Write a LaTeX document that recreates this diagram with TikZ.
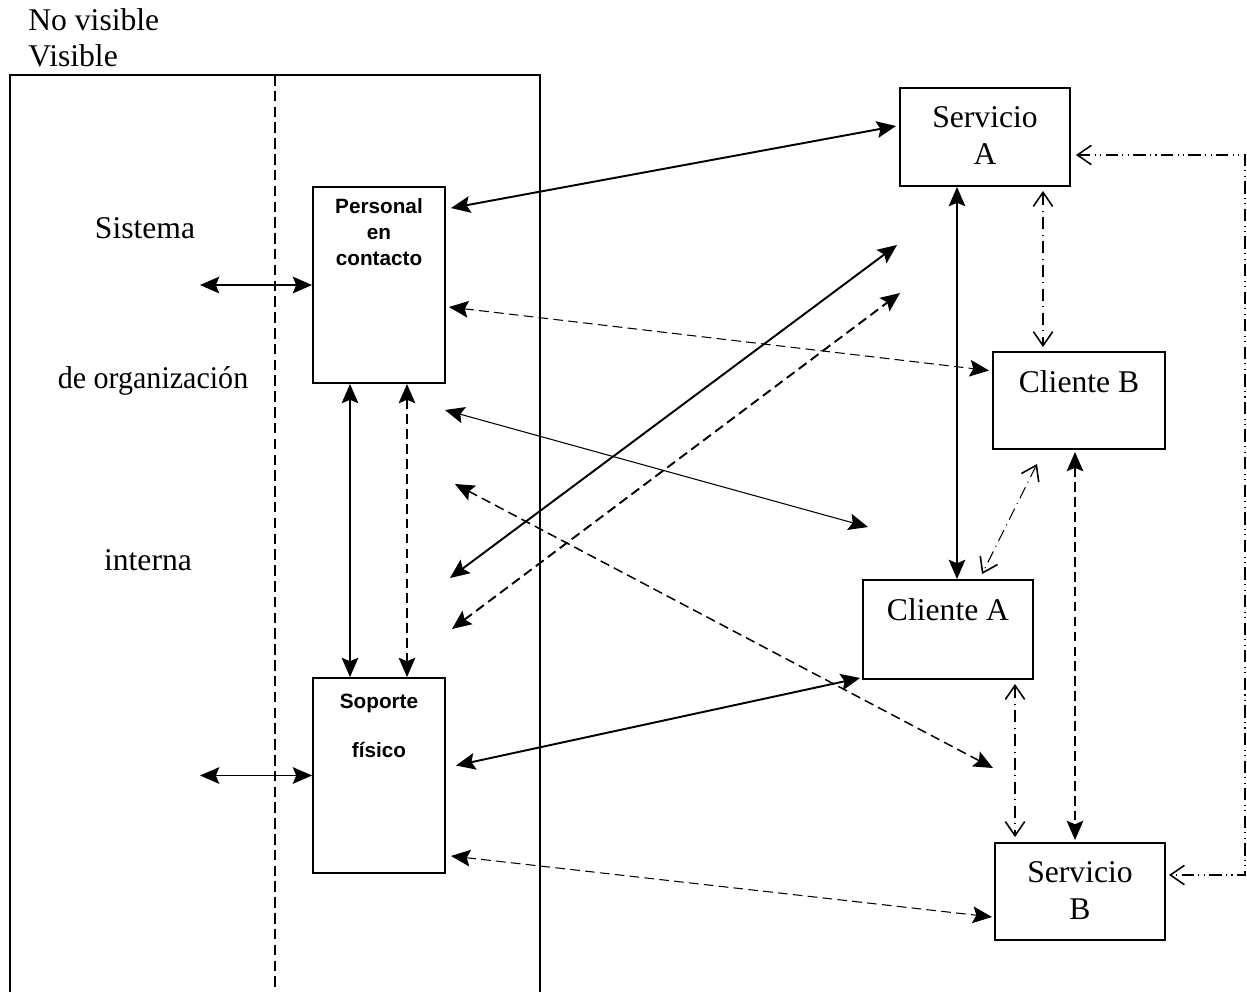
\documentclass[tikz,border=0pt]{standalone}
\usepackage{fontspec}
\setmainfont{Liberation Serif}
\newfontfamily\sansb{Liberation Sans}
\usetikzlibrary{arrows.meta, positioning}

\begin{document}
\begin{tikzpicture}[
    x=0.02cm, y=-0.02cm,
    every node/.style={font=\fontsize{18}{21}\selectfont},
    box/.style={draw, line width=1.1pt, inner sep=0pt},
    boxtext/.style={inner sep=0pt, align=center},
    smalltext/.style={inner sep=0pt, align=center,
        font=\sansb\bfseries\fontsize{11.8}{14.7}\selectfont},
    dbl/.style={{Stealth[length=11pt,width=9.5pt,inset=2pt]}-{Stealth[length=11pt,width=9.5pt,inset=2pt]}},
    opendbl/.style={{Straight Barb[length=8pt,width=11pt,line width=0.9pt]}-{Straight Barb[length=8pt,width=11pt,line width=0.9pt]}},
    thinline/.style={line width=0.6pt},
    midline/.style={line width=0.85pt},
    thickline/.style={line width=1.1pt},
    dashline/.style={dash pattern=on 5.5pt off 3pt},
    dashdot/.style={dash pattern=on 7pt off 3pt on 0.6pt off 3pt},
    dashdotdot/.style={dash pattern=on 7pt off 2.5pt on 0.6pt off 2.5pt on 0.6pt off 2.5pt}
  ]
  \useasboundingbox (0,0) rectangle (1247,992);

  % labels at the top left
  \node[anchor=west, inner sep=0pt] (novis) at (28,20) {No visible};
  \node[anchor=west, inner sep=0pt] (vis) at (28,56) {Visible};

  % visible / not visible frame
  \draw[line width=0.9pt] (10,992) -- (10,75) -- (540,75) -- (540,992);
  \draw[thinline, dash pattern=on 6pt off 3pt] (275,75) -- (275,992);

  \node[anchor=base, inner sep=0pt] (sis) at (145,238) {Sistema};
  \node[anchor=base, inner sep=0pt, xscale=0.95] (org) at (153,388) {de organización};
  \node[anchor=base, inner sep=0pt] (int) at (148,570) {interna};

  % boxes
  \node[box, minimum width=2.64cm, minimum height=3.92cm] (pc) at (379,285) {};
  \node[smalltext, below=7pt of pc.north] (pctext) {Personal\\en\\contacto};
  \node[box, minimum width=2.64cm, minimum height=3.9cm] (sf) at (379,775.5) {};
  \node[smalltext, below=9.5pt of sf.north] (sftext) {Soporte\\[13pt]físico};

  \node[box, minimum width=3.4cm, minimum height=1.96cm] (sa) at (985,137) {};
  \node[boxtext, below=11pt of sa.north] (satext) {Servicio\\A};
  \node[box, minimum width=3.44cm, minimum height=1.94cm] (cb) at (1079,400.5) {};
  \node[boxtext, below=11pt of cb.north] (cbtext) {Cliente B};
  \node[box, minimum width=3.4cm, minimum height=1.98cm] (ca) at (948,629.5) {};
  \node[boxtext, below=11pt of ca.north] (catext) {Cliente A};
  \node[box, minimum width=3.4cm, minimum height=1.94cm] (sb) at (1080,891.5) {};
  \node[boxtext, below=11pt of sb.north] (sbtext) {Servicio\\B};

  % free ends
  \coordinate (l1) at (200,285);
  \coordinate (l2) at (200,775.5);
  \coordinate (f1a) at (450,578);
  \coordinate (f1b) at (897,245);
  \coordinate (f2a) at (452,629);
  \coordinate (f2b) at (900,293);
  \coordinate (f3a) at (445,410);
  \coordinate (f3b) at (868,527);
  \coordinate (f4a) at (455,484);
  \coordinate (f4b) at (993,768);
  \coordinate (rc) at (1245,155);

  % left side
  \draw[dbl, midline] (l1) -- (pc.west);
  \draw[dbl, midline] (l2) -- (sf.west);
  \draw[dbl, midline] ([xshift=-29*0.02cm]pc.south) -- ([xshift=-29*0.02cm]sf.north);
  \draw[dbl, midline, dashline] ([xshift=28*0.02cm]pc.south) -- ([xshift=28*0.02cm]sf.north);

  % crossing the line of visibility
  \draw[dbl, thickline] ([shift={(5,22)}]pc.north east) -- ([shift={(-3,-11)}]sa.west);
  \draw[dbl, thinline, dashline] ([shift={(3,22)}]pc.east) -- ([shift={(-3,-30)}]cb.west);
  \draw[dbl, thickline] (f1a) -- (f1b);
  \draw[dbl, thickline, dashline] (f2a) -- (f2b);
  \draw[dbl, thinline] (f3a) -- (f3b);
  \draw[dbl, midline, dashline] (f4a) -- (f4b);
  \draw[dbl, thickline] ([shift={(10,-10)}]sf.east) -- ([shift={(-2,-2)}]ca.south west);
  \draw[dbl, thinline, dashline] ([shift={(5,-18)}]sf.south east) -- ([shift={(-2,25.5)}]sb.west);

  % right side
  \draw[dbl, midline] ([xshift=-28*0.02cm]sa.south) -- ([xshift=9*0.02cm]ca.north);
  \draw[opendbl, thinline, dashdot] ([shift={(58,4)}]sa.south) -- ([shift={(-36,-4)}]cb.north);
  \draw[opendbl, thinline, dashdot] ([shift={(-42,14)}]cb.south) -- ([shift={(34,-5)}]ca.north);
  \draw[dbl, midline, dashline] ([shift={(-4,2)}]cb.south) -- ([shift={(-5,-2)}]sb.north);
  \draw[opendbl, thinline, dashdot] ([shift={(67,4)}]ca.south) -- ([shift={(-65,-5)}]sb.north);
  \draw[opendbl, thinline, dashdotdot] ([shift={(5,18)}]sa.east) -- (rc) |- ([shift={(3,-16.5)}]sb.east);
\end{tikzpicture}
\end{document}
